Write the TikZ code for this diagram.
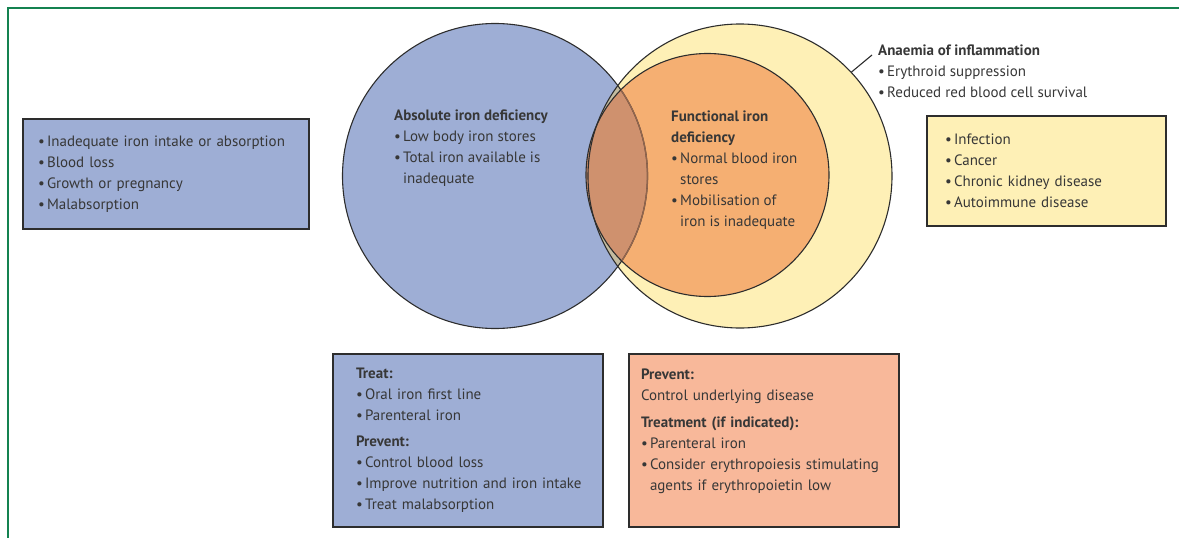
\documentclass[tikz,border=0pt]{standalone}
\usepackage{fontspec}
\setmainfont{PT Sans}
\usetikzlibrary{calc,positioning}
\definecolor{adiblue}{RGB}{158,174,213}
\definecolor{aoiyellow}{RGB}{254,240,182}
\definecolor{fidorange}{RGB}{245,175,114}
\definecolor{mixbrown}{RGB}{207,145,110}
\definecolor{mixgrey}{RGB}{196,188,160}
\definecolor{treatsalmon}{RGB}{248,184,154}
\definecolor{framegreen}{RGB}{20,130,80}
\definecolor{txtgrey}{RGB}{55,55,55}
\definecolor{linegrey}{RGB}{45,45,45}
\newcommand{\bul}{\makebox[9pt][l]{\textbullet}}
\newcommand{\ind}{\hspace*{9pt}}

\begin{document}
\begin{tikzpicture}[x=1pt,y=-1pt,
  every node/.style={font=\fontsize{15}{21}\selectfont, text=txtgrey},
  infobox/.style={draw=linegrey, line width=1.6pt, align=left, minimum height=110pt},
  venntext/.style={anchor=north west, align=left, inner sep=0pt},
  outline/.style={draw=linegrey, line width=1.1pt},
  ]
  \useasboundingbox (0,0) rectangle (1179,538);

  % frame
  \draw[framegreen, line width=1.4pt] (8,538) -- (8,8) -- (1179,8);

  % venn circles
  \coordinate (adi) at (495,176);
  \coordinate (aoi) at (740,176);
  \coordinate (fid) at (707.5,175);
  \fill[aoiyellow] (aoi) circle (152pt);
  \fill[fidorange] (fid) circle (121.5pt);
  \fill[adiblue] (adi) circle (152.5pt);
  \begin{scope}
    \clip (adi) circle (152.5pt);
    \fill[mixgrey] (aoi) circle (152pt);
    \fill[mixbrown] (fid) circle (121.5pt);
  \end{scope}
  \draw[outline] (aoi) circle (152pt);
  \draw[outline] (fid) circle (121.5pt);
  \draw[outline] (adi) circle (152.5pt);
  \begin{scope}
    \clip (fid) circle (121pt);
    \draw[mixbrown!70!black, line width=1.4pt] (adi) circle (152.5pt);
  \end{scope}

  \node[venntext] (aditext) at (394,110) {\textbf{Absolute iron deficiency}\\
    \bul Low body iron stores\\ \bul Total iron available is\\ \ind inadequate};
  \node[venntext] (fidtext) at (671,111) {\textbf{Functional iron}\\ \textbf{deficiency}\\
    \bul Normal blood iron\\ \ind stores\\ \bul Mobilisation of\\ \ind iron is inadequate};
  \node[venntext] (aoitext) at (878,45) {\textbf{Anaemia of inflammation}\\
    \bul Erythroid suppression\\ \bul Reduced red blood cell survival};
  \coordinate (lead) at (872,55);
  \draw[outline] ($(aoi)+(43:152pt)$) -- (lead);

  % causes
  \node[infobox, fill=adiblue, text width=256pt, inner xsep=15pt] (adicause) at (166,174)
    {\bul Inadequate iron intake or absorption\\ \bul Blood loss\\
     \bul Growth or pregnancy\\ \bul Malabsorption};
  \node[infobox, fill=aoiyellow, text width=203pt, inner xsep=18pt] (aoicause) at (1046.5,171)
    {\bul Infection\\ \bul Cancer\\ \bul Chronic kidney disease\\ \bul Autoimmune disease};

  % management
  \node[infobox, fill=adiblue, minimum height=173pt, text width=224pt, inner xsep=23pt] (aditreat) at (468,440.5)
    {\textbf{Treat:}\\ \bul Oral iron first line\\ \bul Parenteral iron\\[5pt]
     \textbf{Prevent:}\\ \bul Control blood loss\\ \mbox{\bul Improve nutrition and iron intake}\\
     \bul Treat malabsorption};
  \node[infobox, fill=treatsalmon, minimum height=173pt, text width=246pt, inner xsep=12pt] (aoitreat) at (764,440.5)
    {\textbf{Prevent:}\\ Control underlying disease\\[6pt]
     \textbf{Treatment (if indicated):}\\ \bul Parenteral iron\\
     \bul Consider erythropoiesis stimulating\\ \ind agents if erythropoietin low\\ \mbox{}};
\end{tikzpicture}
\end{document}
